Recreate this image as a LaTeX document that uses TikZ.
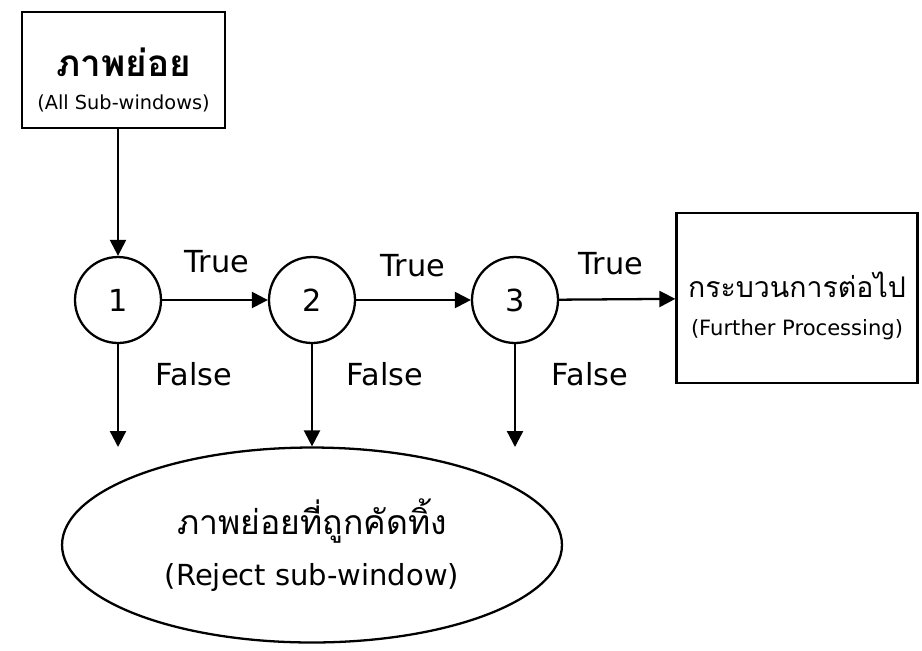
\documentclass[tikz,border=0pt]{standalone}
\usepackage{fontspec}
\setmainfont{DejaVu Sans}
\newfontfamily\thaifont[Script=Thai]{Loma}
\usetikzlibrary{positioning,shapes.geometric,arrows.meta}

\begin{document}
\begin{tikzpicture}[x=0.02cm, y=-0.02cm,
  every node/.style={font=\LARGE},
  flow/.style={-{Triangle[length=0.32cm,width=0.32cm]}, line width=1.3pt},
  blk/.style={rectangle, draw, line width=1.3pt, inner sep=0pt},
  txt/.style={align=center, inner sep=0pt},
  stage/.style={circle, draw, line width=1.3pt, minimum size=1.72cm, inner sep=0pt},
  reject/.style={ellipse, draw, line width=1.3pt, minimum width=10cm, minimum height=3.9cm, align=center}
]
  \useasboundingbox (0,0) rectangle (922,650);

  % input and output boxes
  \node[blk, minimum width=4.06cm, minimum height=2.32cm] (src) at (123.5,70) {};
  \node[txt] (srctxt) at (123.5,80)
    {{\thaifont\bfseries\fontsize{21}{24}\selectfont ภาพย่อย}\\[-3pt]{\fontsize{11}{13}\selectfont (All Sub-windows)}};
  \node[blk, minimum width=4.82cm, minimum height=3.4cm] (next) at (797,298) {};
  \node[txt] (nexttxt) at (797,306)
    {{\thaifont\fontsize{16.2}{19}\selectfont กระบวนการต่อไป}\\[0pt]{\large (Further Processing)}};

  % cascade stages
  \node[stage] (s1) at (118,300) {1};
  \node[stage] (s2) at (312,300) {2};
  \node[stage] (s3) at (515,300) {3};

  \node[reject] (rej) at (312,545)
    {{\thaifont\fontsize{19.2}{22}\selectfont ภาพย่อยที่ถูกคัดทิ้ง}\\[7pt]{\fontsize{16.5}{20}\selectfont (Reject sub-window)}};

  % ends of the false branches
  \coordinate (f1) at (118,447);
  \coordinate (f3) at (515,447);

  \draw[flow] (s1 |- src.south) -- (s1);
  \draw[flow] (s1) -- (s2);
  \draw[flow] (s2) -- (s3);
  \draw[flow] (s3) -- (next);
  \draw[flow] (s1) -- (f1);
  \draw[flow] (s2) -- (rej);
  \draw[flow] (s3) -- (f3);

  \node (t1) at (217,262) {True};
  \node (t2) at (413,266) {True};
  \node (t3) at (611,264) {True};
  \node (n1) at (194,374) {False};
  \node (n2) at (385,374) {False};
  \node (n3) at (590,374) {False};
\end{tikzpicture}
\end{document}
